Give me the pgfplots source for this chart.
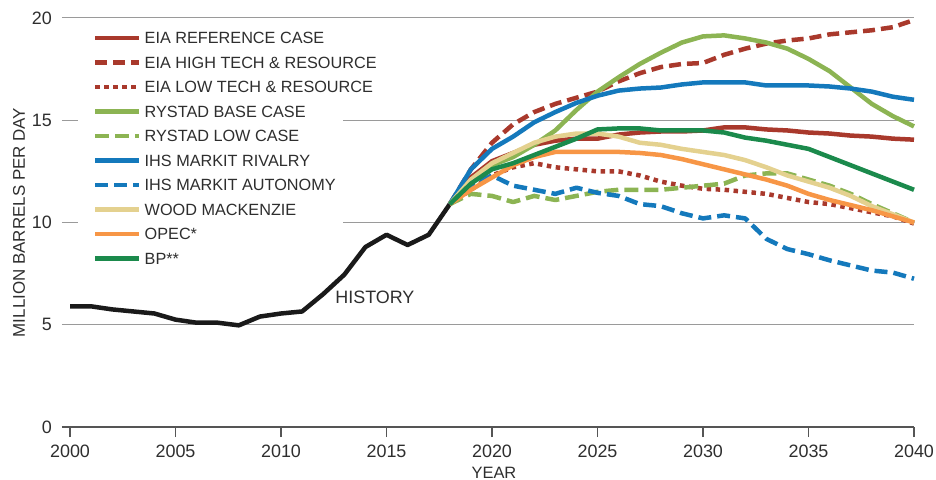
\documentclass[border=0pt]{standalone}
\usepackage{pgfplots}
\usepackage{pgfplotstable}
\pgfplotsset{compat=1.18}
\usepackage{fontspec}
\setmainfont{Liberation Sans}
\definecolor{eiacol}{HTML}{A9392C}
\definecolor{ryscol}{HTML}{8CB453}
\definecolor{ihscol}{HTML}{1479BC}
\definecolor{woodcol}{HTML}{E4D18F}
\definecolor{opeccol}{HTML}{F79646}
\definecolor{bpcol}{HTML}{1B8A4C}
\definecolor{histcol}{HTML}{1A1A1A}
\definecolor{gridgray}{HTML}{9A9A9A}
\definecolor{axisgray}{HTML}{555555}
\definecolor{txt}{HTML}{2E2E2E}

\pgfplotstableread{
year val
2000 5.9
2001 5.9
2002 5.75
2003 5.65
2004 5.55
2005 5.25
2006 5.1
2007 5.1
2008 4.97
2009 5.4
2010 5.55
2011 5.65
2012 6.5
2013 7.45
2014 8.8
2015 9.4
2016 8.9
2017 9.4
2018 10.9
}\histdata

\pgfplotstableread{
year eiaref eiahigh eialow rybase rylow ihsriv ihsaut wood opec bp
2018 10.9 10.9 10.9 10.9 10.9 10.9 10.9 10.9 10.9 10.9
2019 12.2 12.6 11.6 12.0 11.4 12.6 11.8 12.1 11.6 11.9
2020 13.0 13.9 12.3 12.8 11.3 13.6 12.3 12.9 12.2 12.6
2021 13.4 14.8 12.7 13.2 11.0 14.2 11.8 13.4 12.8 12.9
2022 13.8 15.4 12.9 13.8 11.3 14.9 11.6 13.9 13.2 13.3
2023 14.0 15.8 12.7 14.5 11.1 15.4 11.4 14.2 13.45 13.7
2024 14.1 16.1 12.6 15.5 11.3 15.85 11.7 14.35 13.45 14.1
2025 14.1 16.4 12.5 16.4 11.5 16.2 11.45 14.35 13.45 14.55
2026 14.3 16.9 12.5 17.1 11.6 16.45 11.3 14.2 13.45 14.6
2027 14.4 17.3 12.3 17.75 11.6 16.55 10.9 13.9 13.4 14.6
2028 14.45 17.6 12.0 18.3 11.6 16.6 10.8 13.8 13.3 14.5
2029 14.45 17.75 11.8 18.8 11.7 16.75 10.45 13.6 13.1 14.5
2030 14.5 17.8 11.65 19.1 11.8 16.85 10.2 13.45 12.85 14.5
2031 14.65 18.2 11.6 19.15 11.9 16.85 10.35 13.3 12.6 14.4
2032 14.65 18.5 11.5 19.0 12.3 16.85 10.2 13.05 12.35 14.15
2033 14.55 18.75 11.4 18.8 12.4 16.7 9.2 12.7 12.1 14.0
2034 14.5 18.9 11.2 18.5 12.4 16.7 8.7 12.3 11.8 13.8
2035 14.4 19.0 11.0 18.0 12.1 16.7 8.45 12.0 11.4 13.6
2036 14.35 19.2 10.9 17.4 11.8 16.65 8.15 11.7 11.1 13.2
2037 14.25 19.3 10.7 16.6 11.4 16.55 7.9 11.3 10.85 12.8
2038 14.2 19.4 10.5 15.8 10.9 16.4 7.65 10.8 10.6 12.4
2039 14.1 19.55 10.3 15.2 10.45 16.15 7.55 10.4 10.3 12.0
2040 14.05 19.9 9.95 14.7 10.0 16.0 7.25 10.0 10.0 11.6
}\projdata

\begin{document}
\begin{tikzpicture}
\path[use as bounding box] (-62bp,-53bp) rectangle (874bp,427bp);
\begin{axis}[
  at={(0,0)}, anchor=south west,
  scale only axis, width=852bp, height=409bp,
  xmin=1999.62, xmax=2040, ymin=0, ymax=20,
  xtick={2000,2005,...,2040}, ytick={0,5,10,15,20},
  axis x line*=bottom, axis y line*=left,
  y axis line style={draw=none},
  x axis line style={draw=axisgray, line width=1.3bp, -},
  ymajorgrids, grid style={draw=gridgray, line width=1bp},
  tick align=outside, major tick length=10bp,
  xtick style={draw=axisgray, line width=1.3bp},
  ytick style={draw=none},
  /pgf/number format/assume math mode=true,
  /pgf/number format/1000 sep={},
  x tick label style={font=\fontsize{18}{20}\selectfont, text=txt, anchor=north, inner sep=0pt, yshift=-8bp},
  y tick label style={font=\fontsize{18}{20}\selectfont, text=txt, anchor=east, inner sep=0pt},
  xlabel={YEAR},
  xlabel style={font=\fontsize{16.5}{18}\selectfont, text=txt, at={(axis description cs:0.507,0)}, anchor=north, inner sep=0pt, yshift=-39.7bp},
  ylabel={MILLION BARRELS PER DAY},
  ylabel style={font=\fontsize{17}{19}\selectfont, text=txt, at={(axis description cs:-0.0505,0.5)}, anchor=center, inner sep=0pt},
  clip=false,
  legend cell align=left,
  legend style={at={(axis description cs:0.0188,0.972)}, anchor=north west, draw=none, fill=white,
    inner xsep=15bp, inner ysep=1bp, row sep=9.5bp, column sep=3bp,
    font=\fontsize{16.3}{18}\selectfont, text=txt,
    nodes={inner sep=0pt, text height=13bp, text depth=2bp}},
  legend image code/.code={\draw[#1] (0bp,0bp) -- (44bp,0bp);},
]
\addplot[histcol, line width=4.5bp, line join=round, forget plot] table[x=year,y=val] {\histdata};
\addplot[eiacol, line width=4.5bp, line join=round] table[x=year,y=eiaref] {\projdata};
\addlegendentry{\makebox[183bp][l]{EIA REFERENCE CASE}}
\addplot[eiacol, line width=4.5bp, line join=round, dash pattern=on 12bp off 6bp] table[x=year,y=eiahigh] {\projdata};
\addlegendentry{\makebox[183bp][l]{EIA HIGH TECH \& RESOURCE}}
\addplot[eiacol, line width=4.5bp, line join=round, dash pattern=on 4.5bp off 4.5bp] table[x=year,y=eialow] {\projdata};
\addlegendentry{\makebox[183bp][l]{EIA LOW TECH \& RESOURCE}}
\addplot[ryscol, line width=4.5bp, line join=round] table[x=year,y=rybase] {\projdata};
\addlegendentry{\makebox[183bp][l]{RYSTAD BASE CASE}}
\addplot[ryscol, line width=4.5bp, line join=round, dash pattern=on 14bp off 6bp] table[x=year,y=rylow] {\projdata};
\addlegendentry{\makebox[183bp][l]{RYSTAD LOW CASE}}
\addplot[ihscol, line width=4.5bp, line join=round] table[x=year,y=ihsriv] {\projdata};
\addlegendentry{\makebox[183bp][l]{IHS MARKIT RIVALRY}}
\addplot[ihscol, line width=4.5bp, line join=round, dash pattern=on 13bp off 6bp] table[x=year,y=ihsaut] {\projdata};
\addlegendentry{\makebox[183bp][l]{IHS MARKIT AUTONOMY}}
\addplot[woodcol, line width=4.5bp, line join=round] table[x=year,y=wood] {\projdata};
\addlegendentry{\makebox[183bp][l]{WOOD MACKENZIE}}
\addplot[opeccol, line width=4.5bp, line join=round] table[x=year,y=opec] {\projdata};
\addlegendentry{\makebox[183bp][l]{OPEC*}}
\addplot[bpcol, line width=4.5bp, line join=round] table[x=year,y=bp] {\projdata};
\addlegendentry{\makebox[183bp][l]{BP**}}
\node[font=\fontsize{18}{20}\selectfont, text=txt, inner sep=0pt] at (axis cs:2014.45,6.36) {HISTORY};
\end{axis}
\end{tikzpicture}
\end{document}
